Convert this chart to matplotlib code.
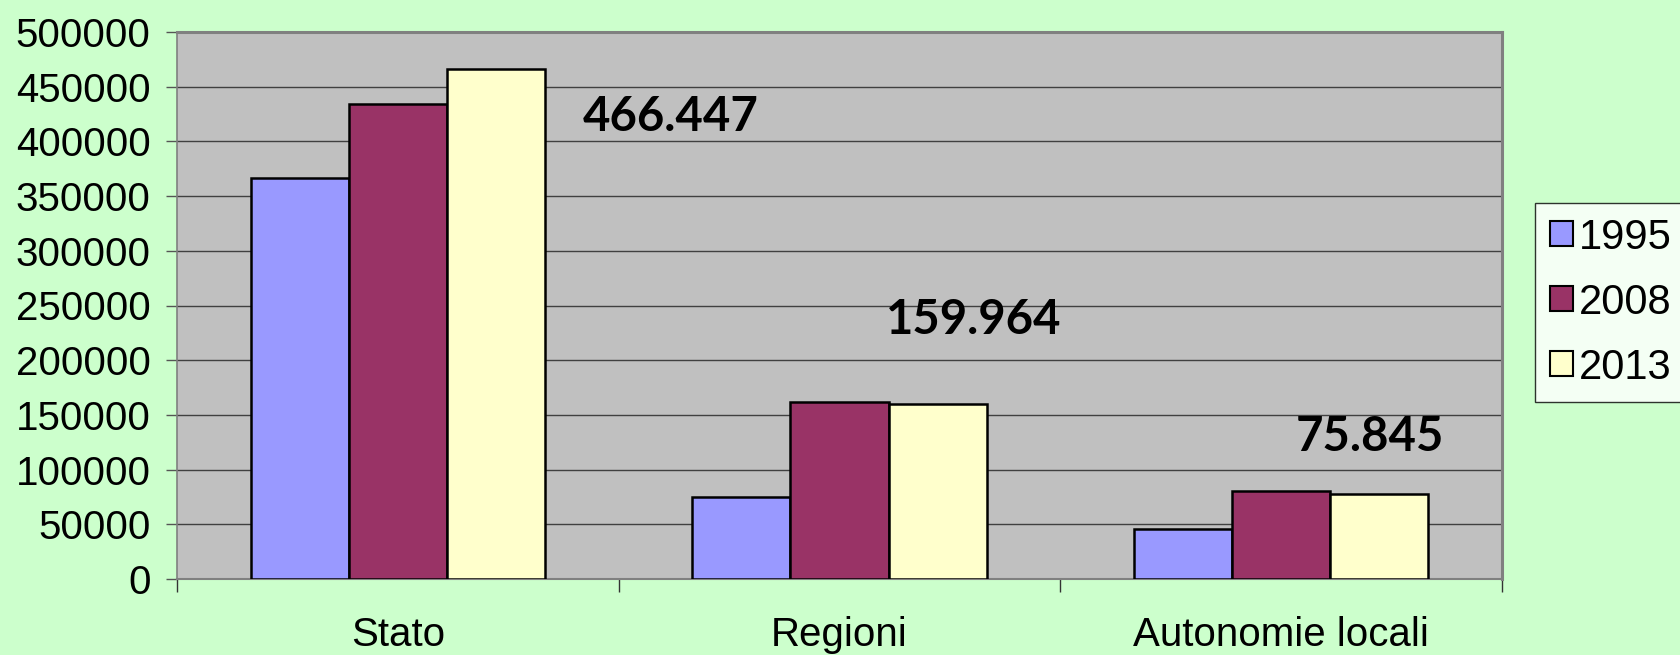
import numpy as np
import matplotlib
matplotlib.use("Agg")
import matplotlib.pyplot as plt
from matplotlib.ticker import MultipleLocator, FixedLocator

# data
categories = ["Stato", "Regioni", "Autonomie locali"]
years = ["1995", "2008", "2013"]
vals_1995 = [367000, 74500, 45500]
vals_2008 = [434000, 161500, 80500]
vals_2013 = [466447, 159964, 77500]
labels_2013 = ["466.447", "159.964", "75.845"]

colors = ["#9999FF", "#993366", "#FFFFCC"]
bg = "#CCFFCC"

plt.rcParams['font.family'] = ['Liberation Sans', 'DejaVu Sans']

fig = plt.figure(figsize=(16.8, 6.55), dpi=100, facecolor=bg)
ax = fig.add_axes([177 / 1680, 1 - 579 / 655, (1502 - 177) / 1680, (579 - 32) / 655])
ax.set_facecolor("#C0C0C0")

x = np.arange(len(categories))
w = 2 / 9
for i, (vals, yr) in enumerate(zip([vals_1995, vals_2008, vals_2013], years)):
    ax.bar(x + (i - 1) * w, vals, width=w, color=colors[i], edgecolor="black",
           linewidth=1.8, label=yr, zorder=3)

ax.set_xlim(-0.5, len(categories) - 0.5)
ax.set_ylim(0, 500000)
ax.yaxis.set_major_locator(MultipleLocator(50000))
ax.yaxis.set_major_formatter(matplotlib.ticker.FuncFormatter(lambda v, p: f"{int(v)}"))
ax.grid(axis="y", color="#404040", linewidth=1.0, zorder=1)

ax.set_xticks(x)
ax.set_xticklabels(categories)
ax.xaxis.set_minor_locator(FixedLocator(np.arange(-0.5, len(categories), 1.0)))
ax.tick_params(axis="x", which="major", length=0, pad=27, labelsize=29)
ax.tick_params(axis="x", which="minor", length=9, width=1, color="#333333")
ax.tick_params(axis="y", length=8, width=1, color="#555555", pad=11, labelsize=29)

for side in ["top", "right"]:
    ax.spines[side].set_color("#808080")
    ax.spines[side].set_linewidth(2.2)
ax.spines["left"].set_color("#808080")
ax.spines["left"].set_linewidth(1.2)
ax.spines["bottom"].set_color("#808080")
ax.spines["bottom"].set_linewidth(1.5)

# bold value labels for 2013
label_pos = [(0.618, 422500), (1.304, 236400), (2.201, 130100)]
for (lx, ly), txt in zip(label_pos, labels_2013):
    ax.text(lx, ly, txt, ha="center", va="center", fontsize=34,
            fontweight="bold", family=["Lato", "DejaVu Sans"], zorder=4)

leg = fig.legend(loc="upper left", bbox_to_anchor=(1535 / 1680, 1 - 203 / 655),
                 fontsize=30, frameon=True, fancybox=False, handlelength=0.55,
                 handleheight=0.55, handletextpad=0.15, labelspacing=0.6,
                 borderpad=0.35, borderaxespad=0)
leg.get_frame().set_edgecolor("black")
leg.get_frame().set_linewidth(1.0)
leg.get_frame().set_facecolor("white")
for p in leg.get_patches():
    p.set_linewidth(1.5)

fig.savefig("out.png", dpi=100, facecolor=bg)
